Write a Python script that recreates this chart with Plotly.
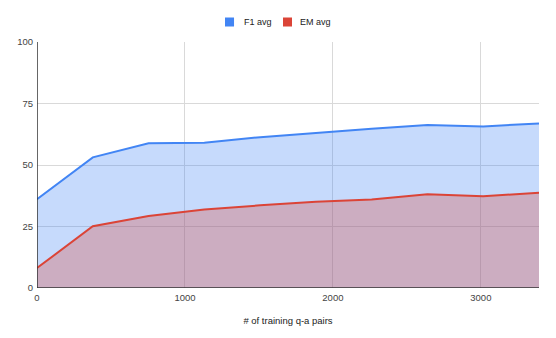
import plotly.graph_objects as go

# training set sizes and scores
train_pairs = [0, 377, 754, 1131, 1508, 1885, 2262, 2639, 3016, 3393]
f1_avg = [36.1, 53.1, 58.8, 59.0, 61.3, 63.1, 64.7, 66.3, 65.7, 66.9]
em_avg = [8.1, 25.1, 29.3, 31.9, 33.6, 35.1, 36.0, 38.1, 37.3, 38.7]

series_names = ["F1 avg", "EM avg"]
y_ticks = [0, 25, 50, 75, 100]
x_ticks = [0, 1000, 2000, 3000]

BLUE = "#4285f4"
RED = "#db4437"


def main():
    fig = go.Figure()

    fig.add_trace(go.Scatter(
        x=train_pairs, y=f1_avg, name=series_names[0], mode="lines",
        line=dict(color=BLUE, width=2), fill="tozeroy",
        fillcolor="rgba(66,133,244,0.3)", showlegend=False,
    ))
    fig.add_trace(go.Scatter(
        x=train_pairs, y=em_avg, name=series_names[1], mode="lines",
        line=dict(color=RED, width=2), fill="tozeroy",
        fillcolor="rgba(219,68,55,0.3)", showlegend=False,
    ))

    fig.update_xaxes(
        range=[0, 3393], tickvals=x_ticks, showgrid=True, gridcolor="#d9d9d9",
        zeroline=False, showline=False, ticks="", automargin=False,
        ticklabelstandoff=2,
        title=dict(text="# of training q-a pairs", font=dict(size=9.5, color="#222222"), standoff=15),
        tickfont=dict(size=9.5, color="#444444"),
    )
    fig.update_yaxes(
        range=[0, 100], tickvals=y_ticks, showgrid=True, gridcolor="#d9d9d9",
        zeroline=False, showline=False, ticks="", automargin=False,
        ticklabelstandoff=3,
        tickfont=dict(size=9.5, color="#444444"),
    )

    # dark baseline and left axis line
    fig.add_shape(type="line", xref="paper", yref="y", x0=0, x1=1, y0=0, y1=0,
                  line=dict(color="#333333", width=1.5))
    fig.add_shape(type="line", xref="x", yref="paper", x0=0, x1=0, y0=0, y1=1,
                  line=dict(color="#333333", width=1.5))

    # legend drawn by hand: square key + label, centred above the plot
    keys = [(0.3745, 0.4084, BLUE), (0.4900, 0.5199, RED)]
    for name, (sx, tx, col) in zip(series_names, keys):
        fig.add_shape(type="rect", xref="paper", yref="paper",
                      x0=sx, x1=sx + 0.018, y0=1.063, y1=1.0996,
                      fillcolor=col, line=dict(width=0))
        fig.add_annotation(text=name, xref="paper", yref="paper", x=tx, y=1.0813,
                           xanchor="left", yanchor="middle", showarrow=False,
                           font=dict(size=9, color="#222222"))

    # page body has an 8px margin, so the figure is shrunk to fit the window
    fig.update_layout(
        width=548, height=330,
        margin=dict(l=29, r=17, t=34, b=50, autoexpand=False),
        plot_bgcolor="white", paper_bgcolor="white", showlegend=False,
        font=dict(family="Liberation Sans, Arial, sans-serif", size=9.5, color="#222222"),
    )

    fig.write_html("out.html")


if __name__ == "__main__":
    main()
